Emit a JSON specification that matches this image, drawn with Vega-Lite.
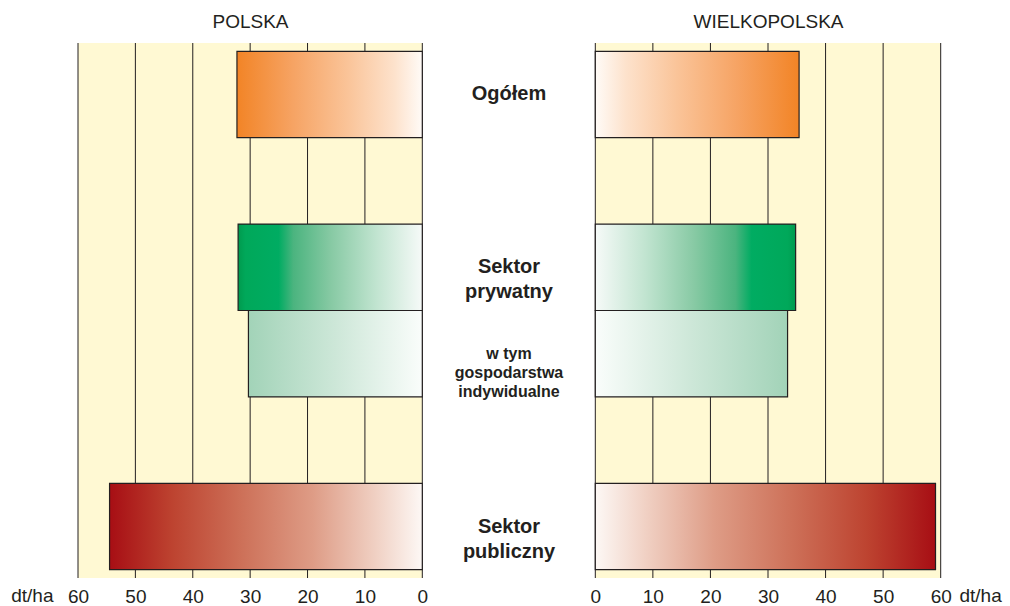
{
  "$schema": "https://vega.github.io/schema/vega-lite/v6.json",
  "width": 1010,
  "height": 535,
  "autosize": {"type": "none"},
  "padding": {"top": 43, "bottom": 28, "left": 0, "right": 0},
  "background": "white",
  "config": {
    "view": {"stroke": null},
    "font": "Liberation Sans",
    "axis": {"labelFont": "Liberation Sans", "titleFont": "Liberation Sans"}
  },
  "datasets": {
    "plony": [
      {"region": "POLSKA", "kat": "Ogółem", "value": 32.3},
      {"region": "POLSKA", "kat": "Sektor\nprywatny", "value": 32.1},
      {"region": "POLSKA", "kat": "w tym\ngospodarstwa\nindywidualne", "value": 30.3},
      {"region": "POLSKA", "kat": "Sektor\npubliczny", "value": 54.5},
      {"region": "WIELKOPOLSKA", "kat": "Ogółem", "value": 35.4},
      {"region": "WIELKOPOLSKA", "kat": "Sektor\nprywatny", "value": 34.8},
      {"region": "WIELKOPOLSKA", "kat": "w tym\ngospodarstwa\nindywidualne", "value": 33.4},
      {"region": "WIELKOPOLSKA", "kat": "Sektor\npubliczny", "value": 59.1}
    ],
    "siatka": [{"t": 0}, {"t": 10}, {"t": 20}, {"t": 30}, {"t": 40}, {"t": 50}, {"t": 60}]
  },
  "data": {"name": "plony"},
  "layer": [
    {
      "layer": [
        {
          "data": {"values": [{}]},
          "mark": {"type": "rect", "color": "#FFF9D3"},
          "encoding": {
            "x": {"datum": 60, "type": "quantitative",
              "scale": {"domain": [0, 60], "range": [422.3, 78], "nice": false},
              "axis": {"orient": "top", "labels": false, "ticks": false, "domain": false, "grid": false,
                "title": "POLSKA", "titleFontSize": 19, "titleFontWeight": "normal", "titleColor": "#231F20",
                "titleBaseline": "alphabetic", "titleAlign": "center", "titleX": 250, "titleY": -16}},
            "x2": {"datum": 0}
          }
        },
        {
          "data": {"name": "siatka"},
          "mark": {"type": "rule", "color": "#231F20", "strokeWidth": 1},
          "encoding": {
            "x": {"field": "t", "type": "quantitative",
              "scale": {"domain": [0, 60], "range": [422.3, 78], "nice": false},
              "axis": {"orient": "bottom", "values": [0, 10, 20, 30, 40, 50, 60], "grid": false, "domain": false,
                "ticks": false, "tickSize": 0, "labelPadding": 9, "labelFontSize": 19, "labelColor": "#231F20",
                "labelFlush": false, "labelOverlap": false,
                "title": "dt/ha", "titleFontSize": 19, "titleFontWeight": "normal", "titleColor": "#231F20",
                "titleX": 53, "titleY": 23, "titleAlign": "right", "titleBaseline": "alphabetic"}}
          }
        },
        {
          "transform": [{"filter": "datum.region == 'POLSKA'"}],
          "mark": {"type": "bar", "stroke": "#231F20", "strokeWidth": 1.2},
          "encoding": {
            "y": {"field": "kat", "type": "nominal", "axis": null,
              "scale": {"domain": ["Ogółem", "_1", "Sektor\nprywatny", "w tym\ngospodarstwa\nindywidualne", "_2", "Sektor\npubliczny"],
                "paddingInner": 0, "paddingOuter": 0.096}},
            "x": {"field": "value", "type": "quantitative",
              "scale": {"domain": [0, 60], "range": [422.3, 78], "nice": false}, "axis": null},
            "fill": {
              "condition": [
                {"test": "datum.kat == 'Ogółem'", "value": {"gradient": "linear", "x1": 0, "y1": 0, "x2": 1, "y2": 0,
                  "stops": [{"offset": 0, "color": "#F28426"}, {"offset": 0.3, "color": "#F6A363"}, {"offset": 0.6, "color": "#FAC499"}, {"offset": 0.85, "color": "#FDE2CC"}, {"offset": 1, "color": "#FFFBF7"}]}},
                {"test": "indexof(datum.kat, 'Sektor') == 0 && indexof(datum.kat, 'prywatny') > 0", "value": {"gradient": "linear", "x1": 0, "y1": 0, "x2": 1, "y2": 0,
                  "stops": [{"offset": 0, "color": "#009A4E"}, {"offset": 0.04, "color": "#00A85A"}, {"offset": 0.22, "color": "#00AC62"}, {"offset": 0.3, "color": "#4BB47F"}, {"offset": 0.5, "color": "#86C9A3"}, {"offset": 0.75, "color": "#C1E4D0"}, {"offset": 1, "color": "#F6FAF8"}]}},
                {"test": "indexof(datum.kat, 'w tym') == 0", "value": {"gradient": "linear", "x1": 0, "y1": 0, "x2": 1, "y2": 0,
                  "stops": [{"offset": 0, "color": "#A2D3B8"}, {"offset": 0.5, "color": "#CDE7D8"}, {"offset": 1, "color": "#FAFDFB"}]}}
              ],
              "value": {"gradient": "linear", "x1": 0, "y1": 0, "x2": 1, "y2": 0,
                "stops": [{"offset": 0, "color": "#A70E14"}, {"offset": 0.2, "color": "#BD4330"}, {"offset": 0.42, "color": "#CD7058"}, {"offset": 0.65, "color": "#DE9C86"}, {"offset": 0.85, "color": "#F0D0C3"}, {"offset": 1, "color": "#FDF8F5"}]}
            }
          }
        }
      ],
      "resolve": {"axis": {"x": "independent"}}
    },
    {
      "layer": [
        {
          "data": {"values": [{}]},
          "mark": {"type": "rect", "color": "#FFF9D3"},
          "encoding": {
            "x": {"datum": 0, "type": "quantitative",
              "scale": {"domain": [0, 60], "range": [595.3, 940.7], "nice": false},
              "axis": {"orient": "top", "labels": false, "ticks": false, "domain": false, "grid": false,
                "title": "WIELKOPOLSKA", "titleFontSize": 19, "titleFontWeight": "normal", "titleColor": "#231F20",
                "titleBaseline": "alphabetic", "titleAlign": "center", "titleX": 768, "titleY": -16}},
            "x2": {"datum": 60}
          }
        },
        {
          "data": {"name": "siatka"},
          "mark": {"type": "rule", "color": "#231F20", "strokeWidth": 1},
          "encoding": {
            "x": {"field": "t", "type": "quantitative",
              "scale": {"domain": [0, 60], "range": [595.3, 940.7], "nice": false},
              "axis": {"orient": "bottom", "values": [0, 10, 20, 30, 40, 50, 60], "grid": false, "domain": false,
                "ticks": false, "tickSize": 0, "labelPadding": 9, "labelFontSize": 19, "labelColor": "#231F20",
                "labelFlush": false, "labelOverlap": false,
                "title": "dt/ha", "titleFontSize": 19, "titleFontWeight": "normal", "titleColor": "#231F20",
                "titleX": 959, "titleY": 23, "titleAlign": "left", "titleBaseline": "alphabetic"}}
          }
        },
        {
          "transform": [{"filter": "datum.region == 'WIELKOPOLSKA'"}],
          "mark": {"type": "bar", "stroke": "#231F20", "strokeWidth": 1.2},
          "encoding": {
            "y": {"field": "kat", "type": "nominal", "axis": null,
              "scale": {"domain": ["Ogółem", "_1", "Sektor\nprywatny", "w tym\ngospodarstwa\nindywidualne", "_2", "Sektor\npubliczny"],
                "paddingInner": 0, "paddingOuter": 0.096}},
            "x": {"field": "value", "type": "quantitative",
              "scale": {"domain": [0, 60], "range": [595.3, 940.7], "nice": false}, "axis": null},
            "fill": {
              "condition": [
                {"test": "datum.kat == 'Ogółem'", "value": {"gradient": "linear", "x1": 0, "y1": 0, "x2": 1, "y2": 0,
                  "stops": [{"offset": 0, "color": "#FFFBF7"}, {"offset": 0.15, "color": "#FDE2CC"}, {"offset": 0.4, "color": "#FAC499"}, {"offset": 0.7, "color": "#F6A363"}, {"offset": 1, "color": "#F28426"}]}},
                {"test": "indexof(datum.kat, 'Sektor') == 0 && indexof(datum.kat, 'prywatny') > 0", "value": {"gradient": "linear", "x1": 0, "y1": 0, "x2": 1, "y2": 0,
                  "stops": [{"offset": 0, "color": "#F6FAF8"}, {"offset": 0.25, "color": "#C1E4D0"}, {"offset": 0.5, "color": "#86C9A3"}, {"offset": 0.7, "color": "#4BB47F"}, {"offset": 0.78, "color": "#00AC62"}, {"offset": 0.96, "color": "#00A85A"}, {"offset": 1, "color": "#009A4E"}]}},
                {"test": "indexof(datum.kat, 'w tym') == 0", "value": {"gradient": "linear", "x1": 0, "y1": 0, "x2": 1, "y2": 0,
                  "stops": [{"offset": 0, "color": "#FAFDFB"}, {"offset": 0.5, "color": "#CDE7D8"}, {"offset": 1, "color": "#A2D3B8"}]}}
              ],
              "value": {"gradient": "linear", "x1": 0, "y1": 0, "x2": 1, "y2": 0,
                "stops": [{"offset": 0, "color": "#FDF8F5"}, {"offset": 0.15, "color": "#F0D0C3"}, {"offset": 0.35, "color": "#DE9C86"}, {"offset": 0.58, "color": "#CD7058"}, {"offset": 0.8, "color": "#BD4330"}, {"offset": 1, "color": "#A70E14"}]}
            }
          }
        }
      ],
      "resolve": {"axis": {"x": "independent"}}
    },
    {
      "transform": [{"filter": "datum.region == 'POLSKA' && indexof(datum.kat, 'w tym') != 0"}],
      "mark": {"type": "text", "font": "Liberation Sans", "fontWeight": "bold", "fontSize": 20, "lineHeight": 25,
        "lineBreak": "\n", "align": "center", "baseline": "middle", "color": "#231F20", "dx": 4},
      "encoding": {
        "y": {"field": "kat", "type": "nominal", "axis": null,
          "scale": {"domain": ["Ogółem", "_1", "Sektor\nprywatny", "w tym\ngospodarstwa\nindywidualne", "_2", "Sektor\npubliczny"],
            "paddingInner": 0, "paddingOuter": 0.096}},
        "text": {"field": "kat", "type": "nominal"}
      }
    },
    {
      "transform": [{"filter": "datum.region == 'POLSKA' && indexof(datum.kat, 'w tym') == 0"}],
      "mark": {"type": "text", "font": "Liberation Sans", "fontWeight": "bold", "fontSize": 16, "lineHeight": 19,
        "lineBreak": "\n", "align": "center", "baseline": "middle", "color": "#231F20", "dx": 4},
      "encoding": {
        "y": {"field": "kat", "type": "nominal", "axis": null,
          "scale": {"domain": ["Ogółem", "_1", "Sektor\nprywatny", "w tym\ngospodarstwa\nindywidualne", "_2", "Sektor\npubliczny"],
            "paddingInner": 0, "paddingOuter": 0.096}},
        "text": {"field": "kat", "type": "nominal"}
      }
    }
  ],
  "resolve": {"scale": {"x": "independent"}, "axis": {"x": "independent"}}
}
